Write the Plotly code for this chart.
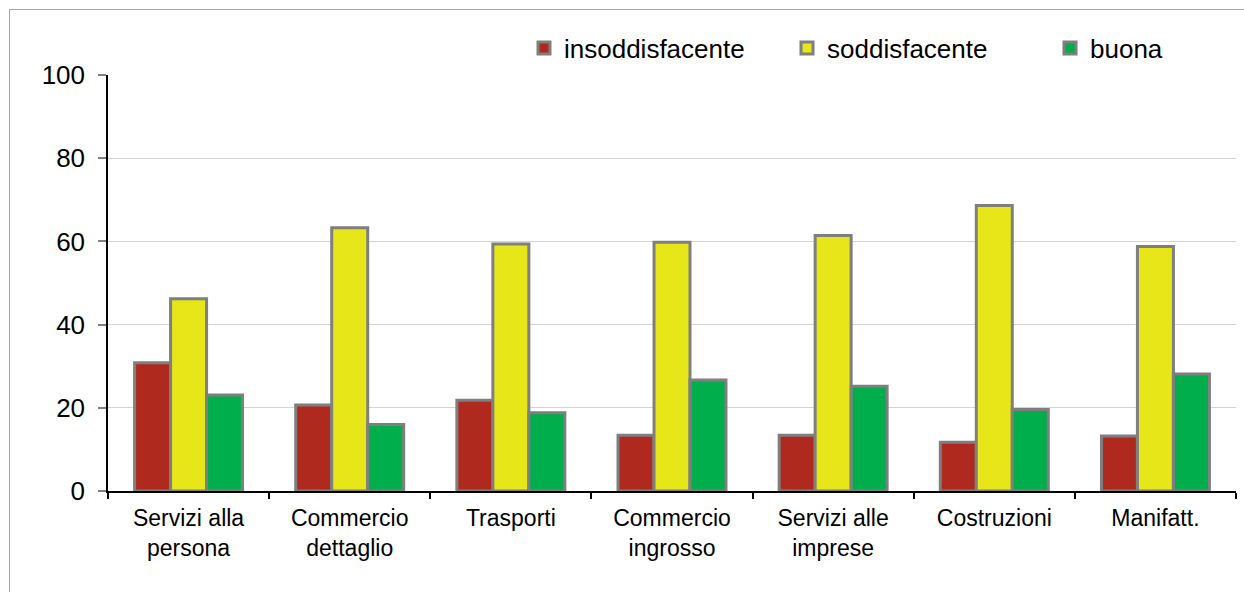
import plotly.graph_objects as go

# Settori e quote (%) per valutazione
categorie = [
    "Servizi alla<br>persona",
    "Commercio<br>dettaglio",
    "Trasporti",
    "Commercio<br>ingrosso",
    "Servizi alle<br>imprese",
    "Costruzioni",
    "Manifatt.",
]
insoddisfacente = [30.8, 20.7, 21.8, 13.4, 13.4, 11.7, 13.2]
soddisfacente = [46.2, 63.3, 59.4, 59.8, 61.4, 68.6, 58.8]
buona = [23.1, 16.0, 18.8, 26.7, 25.2, 19.6, 28.1]

serie = [
    ("insoddisfacente", insoddisfacente, "#b0291f"),
    ("soddisfacente", soddisfacente, "#e6e619"),
    ("buona", buona, "#00ae4c"),
]

W, H = 1244, 592
L, R, T, B = 108, 8, 75, 101
FONT = "Liberation Sans, Arial, sans-serif"

fig = go.Figure()
for nome, valori, colore in serie:
    fig.add_trace(go.Bar(
        name=nome, x=categorie, y=valori,
        marker=dict(color=colore, line=dict(color="#7f7f7f", width=3)),
    ))

# cornice esterna del grafico (in coordinate paper)
pw, ph = W - L - R, H - T - B
def px(x):
    return (x - L) / pw
def py(y):
    return (H - B - y) / ph

fig.add_shape(type="line", xref="paper", yref="paper",
              x0=px(9.5), x1=px(W + 5), y0=py(9.5), y1=py(9.5),
              line=dict(color="#a6a6a6", width=1))
fig.add_shape(type="line", xref="paper", yref="paper",
              x0=px(9.5), x1=px(9.5), y0=py(9.5), y1=py(H + 5),
              line=dict(color="#a6a6a6", width=1))

fig.update_layout(
    width=W, height=H,
    margin=dict(l=L, r=R, t=T, b=B, autoexpand=False),
    paper_bgcolor="white", plot_bgcolor="white",
    barmode="group", bargap=0.33, bargroupgap=0,
    font=dict(family=FONT, color="black"),
    showlegend=True,
    legend=dict(
        orientation="h", x=px(524), y=py(48), xanchor="left", yanchor="middle",
        font=dict(size=26, family=FONT, color="black"),
        entrywidth=218, entrywidthmode="pixels",
        bgcolor="rgba(0,0,0,0)", itemclick=False,
    ),
    xaxis=dict(
        showline=True, linecolor="black", linewidth=1.5,
        ticks="outside", ticklen=6, tickcolor="black", tickwidth=1.5,
        tickson="boundaries",
        tickfont=dict(size=23, family=FONT, color="black"),
        ticklabelstandoff=6,
        showgrid=False,
    ),
    yaxis=dict(
        range=[0, 100], tickvals=[0, 20, 40, 60, 80, 100],
        showline=True, linecolor="black", linewidth=1.5,
        ticks="outside", ticklen=8, tickcolor="#808080", tickwidth=1.5,
        tickfont=dict(size=26, family=FONT, color="black"),
        showgrid=True, gridcolor="#d4d4d4", gridwidth=1,
        zeroline=False, ticklabelstandoff=8,
    ),
)

fig.write_html("out.html")
